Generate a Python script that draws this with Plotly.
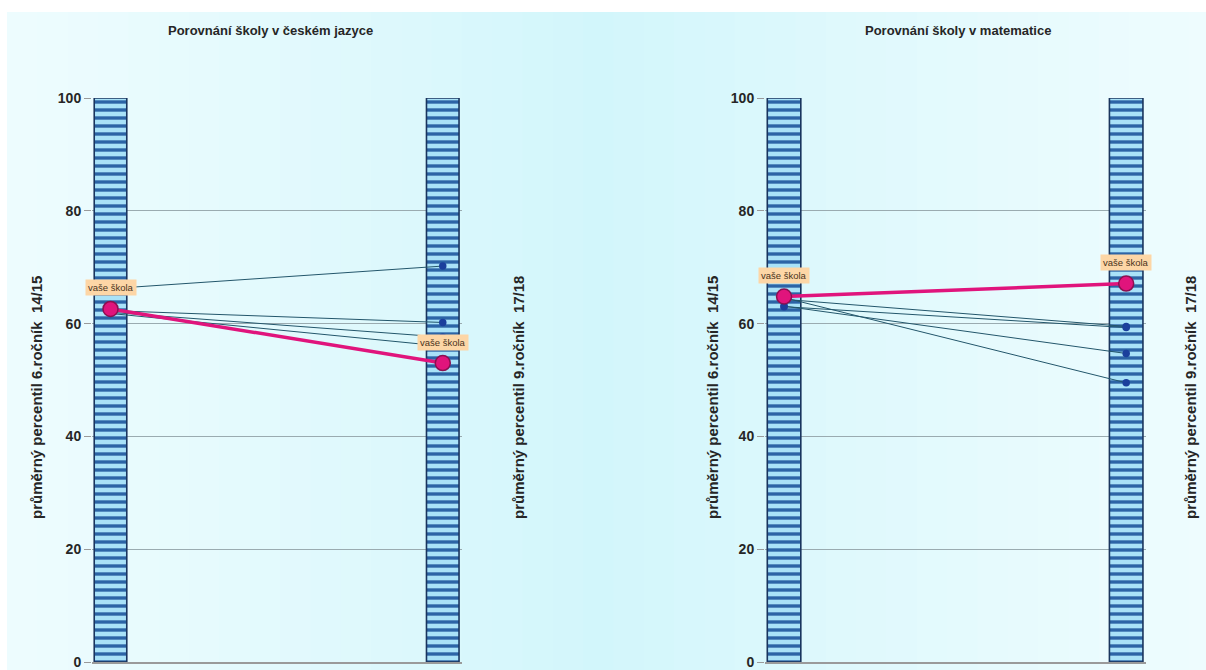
import plotly.graph_objects as go

# ---- data ----
years = ["6.ročník 14/15", "9.ročník 17/18"]
bar_top = [100, 100]

cz_school = [62.6, 53.0]
cz_others_6 = [66.2, 62.3, 62.0, 61.8]
cz_others_9 = [70.2, 60.2, 57.6, 56.0]

m_school = [64.8, 67.1]
m_others_6 = [64.3, 63.0, 63.1, 64.6]
m_others_9 = [59.5, 59.3, 54.7, 49.5]

titles = ["Porovnání školy v českém jazyce", "Porovnání školy v matematice"]
ytitle_left = "průměrný percentil 6.ročník  14/15"
ytitle_right = "průměrný percentil 9.ročník  17/18"
label_text = "vaše škola"
tick_vals = [0, 20, 40, 60, 80, 100]

# ---- geometry / style ----
W, H = 1206, 670
PL, PR, PT, PB = 92, 1146, 98, 662   # plot area in screen pixels
ML, MR, MT, MB = PL, W - PR, PT, H - PB
PW = PR - PL
PH = PB - PT
XPOS = [0.05, 0.948]  # positions of the two columns along each panel's x axis


def px_x(p):
    return (p - PL) / PW


def px_y(p):
    return (PB - p) / PH


FONT = "Liberation Sans, Arial, sans-serif"
TXT = "#262626"
LINE_C = "#23566b"
DOT_C = "#1b3f9c"
PINK = "#e0147c"

fig = go.Figure()

panels = [
    ("x", "y", cz_school, cz_others_6, cz_others_9),
    ("x2", "y2", m_school, m_others_6, m_others_9),
]

for xa, ya, school, o6, o9 in panels:
    fig.add_trace(go.Bar(
        x=XPOS, y=bar_top, width=0.088, xaxis=xa, yaxis=ya,
        marker=dict(color="#a9e2f8", line=dict(color="#1a355e", width=1.6),
                    pattern=dict(shape="-", fgcolor="#2c64a6", bgcolor="#a9e2f8",
                                 size=8, solidity=0.42, fillmode="replace")),
        hoverinfo="skip", showlegend=False))
    for a, b in zip(o6, o9):
        fig.add_trace(go.Scatter(
            x=XPOS, y=[a, b], xaxis=xa, yaxis=ya, mode="lines+markers",
            line=dict(color=LINE_C, width=1),
            marker=dict(color=DOT_C, size=7.5, symbol="circle"),
            showlegend=False, hoverinfo="skip"))
    fig.add_trace(go.Scatter(
        x=XPOS, y=school, xaxis=xa, yaxis=ya, mode="lines+markers",
        line=dict(color=PINK, width=3.5),
        marker=dict(color=PINK, size=15, line=dict(color="#8a1050", width=1.5)),
        showlegend=False, hoverinfo="skip"))
    for xv, yv in zip(XPOS, school):
        fig.add_annotation(
            x=xv, y=yv, xref=xa, yref=ya, text=label_text, showarrow=False,
            xanchor="center", yanchor="middle",
            yshift=21, bgcolor="#fdd6a6", borderpad=2,
            font=dict(family=FONT, size=9.5, color="#4a3320"))

axis_common = dict(
    range=[0, 100], tickvals=tick_vals, ticks="outside", ticklen=7,
    tickcolor="#9a9a9a", tickfont=dict(family=FONT, size=14, color=TXT, weight="bold"),
    zeroline=False, fixedrange=True, automargin=False)

xl0, xl1 = px_x(92), px_x(462)
xr0, xr1 = px_x(765), px_x(1146)

fig.update_layout(
    width=W, height=H,
    margin=dict(l=ML, r=MR, t=MT, b=MB, autoexpand=False),
    paper_bgcolor="white",
    plot_bgcolor="rgba(0,0,0,0)",
    barmode="overlay",
    xaxis=dict(domain=[xl0, xl1], range=[0, 1], showticklabels=False, ticks="",
               showgrid=False, zeroline=False, showline=True, linecolor="#9a9a9a",
               linewidth=2, fixedrange=True, automargin=False),
    xaxis2=dict(domain=[xr0, xr1], range=[0, 1], showticklabels=False, ticks="",
                showgrid=False, zeroline=False, showline=True, linecolor="#9a9a9a",
                linewidth=2, fixedrange=True, anchor="y2", automargin=False),
    yaxis=dict(anchor="x", showgrid=True, gridcolor="#9aabb0", gridwidth=1, **axis_common),
    yaxis2=dict(anchor="x2", showgrid=True, gridcolor="#9aabb0", gridwidth=1, **axis_common),
    yaxis3=dict(anchor="x", overlaying="y", side="right", showgrid=False, **axis_common),
    yaxis4=dict(anchor="x2", overlaying="y2", side="right", showgrid=False, **axis_common),
)

# background: soft cyan gradient, lighter toward the edges (white strip top/left)
def lerp(c1, c2, t):
    return "#%02x%02x%02x" % tuple(round(a + (b - a) * t) for a, b in zip(c1, c2))

EDGE = (0xee, 0xfc, 0xfe)
CENTER = (0xd2, 0xf6, 0xfb)
NSTRIP = 40
x_start, x_end = 7, W + 14
step = (x_end - x_start) / NSTRIP
for i in range(NSTRIP):
    a = x_start + i * step
    b = a + step + 1
    mid = (a + b) / 2
    t = max(0.0, 1 - abs(mid - 600) / 620)
    fig.add_shape(type="rect", xref="paper", yref="paper",
                  x0=px_x(a), x1=px_x(b), y0=px_y(H + 4), y1=px_y(12),
                  fillcolor=lerp(EDGE, CENTER, t ** 1.2), line=dict(width=0), layer="below")

# titles
for t, cx in zip(titles, [270, 958]):
    fig.add_annotation(text=t, x=px_x(cx), y=px_y(31), xref="paper", yref="paper",
                       xanchor="center", yanchor="middle", showarrow=False,
                       font=dict(family=FONT, size=13, color=TXT, weight="bold"))

# axis titles
for t, cx in [(ytitle_left, 36), (ytitle_right, 518), (ytitle_left, 712), (ytitle_right, 1190)]:
    fig.add_annotation(text=t, x=px_x(cx), y=px_y(398), xref="paper", yref="paper",
                       xanchor="center", yanchor="middle",
                       textangle=-90, showarrow=False,
                       font=dict(family=FONT, size=15, color=TXT, weight="bold"))

fig.write_html("out.html", config={"displayModeBar": False},
               post_script="document.body.style.margin='0';")
